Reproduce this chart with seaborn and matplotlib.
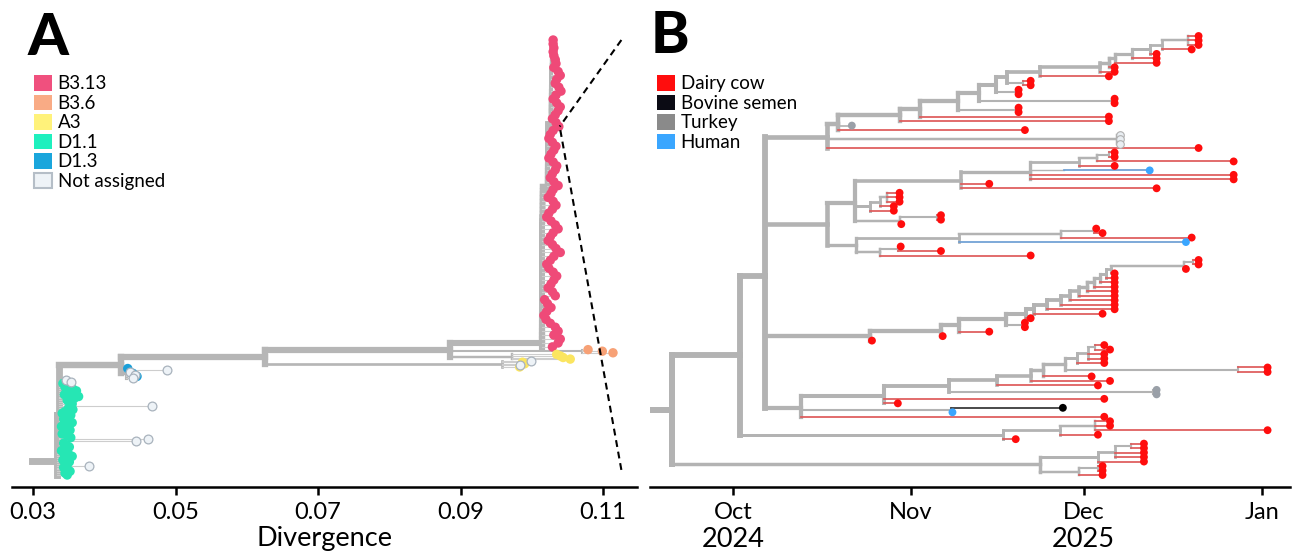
import numpy as np
import pandas as pd
import matplotlib
matplotlib.use("Agg")
import matplotlib.pyplot as plt
import seaborn as sns
from matplotlib.collections import LineCollection
from matplotlib.patches import Patch
from matplotlib.lines import Line2D

# ====================== DATA : panel A (divergence tree) ======================
lineage_names = ["B3.13", "B3.6", "A3", "D1.1", "D1.3", "Not assigned"]
lineage_fill = ["#f0507e", "#f9ab85", "#fff27a", "#1ef0be", "#1aa6dc", "#eef3f7"]
lineage_dot = ["#ef4a78", "#f7a176", "#fbe560", "#26e6b4", "#1b9fd8", "#eef3f7"]

# B3.13 tips (divergence), listed from the top of the column downwards
b313_div = [0.1030, 0.1030, 0.1031, 0.1030, 0.1031, 0.1033,
            0.1034, 0.1031, 0.1037, 0.1040, 0.1035, 0.1033, 0.1038, 0.1041, 0.1034, 0.1030,
            0.1035, 0.1040, 0.1037, 0.1033, 0.1029, 0.1034, 0.1038,
            0.1030, 0.1026, 0.1024, 0.1029, 0.1034, 0.1031, 0.1027, 0.1024, 0.1030, 0.1035,
            0.1033, 0.1029, 0.1026, 0.1031, 0.1037, 0.1030,
            0.1027, 0.1023, 0.1030, 0.1034, 0.1029, 0.1024, 0.1021, 0.1027, 0.1033, 0.1037,
            0.1030, 0.1026, 0.1023, 0.1029, 0.1034, 0.1040, 0.1031, 0.1026, 0.1021, 0.1024,
            0.1030, 0.1035, 0.1031, 0.1027, 0.1023, 0.1029, 0.1033,
            0.1018, 0.1022, 0.1027, 0.1021, 0.1017, 0.1020, 0.1026, 0.1033, 0.1037, 0.1031,
            0.1040, 0.1037, 0.1029]
# B3.13 ladder backbone: (number of tips, node divergence) from the crown down
b313_backbone = [(23, 0.1027), (16, 0.1022), (40, 0.1014)]
b36_div = [0.1079, 0.1099, 0.1114]
a3_div = [0.1035, 0.1040, 0.1044, 0.1054]
mixed_div = [0.0999, 0.0987, 0.0990, 0.0984, 0.0983]
mixed_lineage = ["Not assigned", "A3", "A3", "Not assigned", "A3"]
d13_div = [0.0433, 0.0488, 0.0436, 0.0440, 0.0443, 0.0446, 0.0441]
d13_lineage = ["D1.3", "Not assigned", "Not assigned", "D1.3", "Not assigned", "D1.3", "Not assigned"]
d11_div = [0.0347, 0.0354, 0.0342, 0.0349, 0.0345, 0.0356, 0.0361, 0.0352, 0.0344, 0.0364,
           0.0358, 0.0348, 0.0352, 0.0355, 0.0467, 0.0350, 0.0356, 0.0345, 0.0341, 0.0353,
           0.0347, 0.0343, 0.0351, 0.0355, 0.0346, 0.0340, 0.0349, 0.0352, 0.0344, 0.0341,
           0.0348, 0.0353, 0.0461, 0.0445, 0.0343, 0.0347, 0.0351, 0.0345, 0.0340, 0.0349,
           0.0344, 0.0355, 0.0348, 0.0342, 0.0351, 0.0346, 0.0379, 0.0343, 0.0349, 0.0352,
           0.0345, 0.0348]
d11_lineage = ["Not assigned", "Not assigned"] + ["D1.1"] * 12 + ["Not assigned"] + ["D1.1"] * 17 \
    + ["Not assigned", "Not assigned"] + ["D1.1"] * 12 + ["Not assigned"] + ["D1.1"] * 5
d11_inner_count = 40          # D1.1 tips sharing the inner node with the rest of the tree
# backbone node divergences
root_stub_div = 0.0298
d11_outer_div = 0.0334
d11_crown_div = 0.0336
d13_split_div = 0.0424
d13_crown_div = 0.0430
b3_split_div = 0.0626
b3_crown_div = 0.0885
b36_crown_div = 0.1070
a3_crown_div = 0.0972
mixed_crown_div = 0.0958
div_ticks = [0.03, 0.05, 0.07, 0.09, 0.11]

# ====================== DATA : panel B (time tree) ======================
# Newick-like strings; after '@' the node / tip date in days since 1 Oct 2024
# tip codes: c dairy cow, b bovine semen, t turkey, h human, u unassigned
host_codes = ["c", "b", "t", "h"]
host_names = ["Dairy cow", "Bovine semen", "Turkey", "Human"]
host_fill = ["#ff0d0d", "#0b0b14", "#8a8a8a", "#3aa6ff"]

T_crown = "((c@81,c@81,c@81)@79.1,c@79.8)@74.6"
T_ladder = [(72.5, "c@73.7"), (69.4, "c@73.7"), (66.4, "c@73.7"), (65.4, "c@66.4"),
            (63.8, "c@66.4"), (53.4, "c@65.4"), (47.7, "(c@51.8,c@51.8)@50.5"),
            (45.7, "(c@49.7,c@49.7)@49.2"), (42.8, "(c@66.4,c@66.4)@66.0"),
            (39.1, "(c@49.7,c@49.7)@49.2"), (32.5, "c@65.4"), (29.0, "c@65.4"),
            (18.3, "t@20.7,c@50.8"), (16.3, "(u@67.3,u@67.3,u@67.3)@66.8,c@81")]
M1a = "(((((c@66.4,c@66.4)@65.5,c@87.1)@63.4,c@66.4)@60.2,(h@72.5)@57.6,c@87.1,c@87.1)@51.7,c@44.6,c@73.7)@39.6"
M1b = "(((c@29,c@29,c@29)@26.8,c@28)@25.6,c@28)@23.8"
M1c = "((c@36.2,c@36.2)@35.5,c@29.3)@29"
M2a = "(((c@63.2,c@64.3)@62.8,c@79.8)@57.0,h@78.8)@39.4"
M2b = "((c@29.2,c@36.2)@28.8,c@51.8)@25.6"
M_dates = [21.3, 21.5, 16.4]
L_crown = "((c@81,c@81)@80,c@78.8)@78.4"
L_ladder = [(65.8, "c@66.4"), (64.9, "c@66.4"), (63.9, "c@66.4"), (62.8, "c@66.4"),
            (61.6, "c@66.4"), (60.2, "c@66.4"), (58.6, "c@66.4"), (57.0, "c@66.4"),
            (54.6, "c@66.4"), (52.4, "c@64.3"), (51.0, "c@51.8"),
            (47.5, "(c@50.8,c@50.8)@50.4"), (39.4, "c@44.6"), (36.2, "c@36.5"), (23.8, "c@24.2")]
W1_crown = "(c@64.6,c@65.6)@63.0"
W1_ladder = [(61.7, "c@64.6,c@64.6"), (59.8, "c@64.6"), (57.7, "(c@93,c@93)@87.8"),
             (54.0, "c@62.4"), (51.9, "c@65.6"), (45.9, "c@63.5"),
             (37.6, "(t@73.7,t@73.7)@73.0"), (26.3, "c@64.6,c@28.7"),
             (11.9, "(b@57.4,h@38.2)@37.9,c@64.6")]
W2 = "(((c@65.6,c@65.6,c@93)@63.0,c@63.5)@56.9,c@49.2)@47.0"
Z = "((((c@71.5,c@71.5)@69.2,c@71.5,c@71.5)@66.4,c@71.5)@63.5,((c@64.3,c@64.3)@63.5,c@64.3)@60.2)@53.4"
backbone_dates = [5.6, 1.2, -10.6]   # Q, P, root
root_stub_date = -14.1
month_ticks = [0, 31, 61, 92]
month_labels = ["Oct", "Nov", "Dec", "Jan"]
year_ticks = [0, 61]
year_labels = ["2024", "2025"]

# ====================== helpers ======================
def tip(x, key, h=1.0):
    return {"x": x, "key": key, "h": h, "kids": []}

def node(x, kids):
    return {"x": x, "key": None, "h": 0, "kids": list(kids)}

def parse(s):
    s = s.replace(" ", "")
    pos = 0
    def rd():
        nonlocal pos
        if s[pos] == "(":
            pos += 1
            kids = [rd()]
            while s[pos] == ",":
                pos += 1
                kids.append(rd())
            pos += 1
            key = None
        else:
            j = s.index("@", pos)
            key = s[pos:j]
            pos = j
            kids = []
        pos += 1
        j = pos
        while j < len(s) and s[j] not in ",)":
            j += 1
        x = float(s[pos:j])
        pos = j
        return {"x": x, "key": key, "h": 1.0, "kids": kids}
    return rd()

def ladder(crown, steps):
    s = crown
    for d, side in steps:
        s = f"({s},{side})@{d}"
    return s

def layout(root):
    cur = [0.0]
    def rec(n):
        if n["kids"]:
            for k in n["kids"]:
                rec(k)
            n["y"] = float(np.mean([k["y"] for k in n["kids"]]))
            n["n"] = sum(k["n"] for k in n["kids"])
        else:
            n["y"] = cur[0] + n["h"] / 2
            cur[0] += n["h"]
            n["n"] = 1
    rec(root)

def edges(root, stub_x, tip_color, int_color, lw_fn, tip_lw):
    segs, cols, lws, tips = [], [], [], []
    def rec(n, px):
        if n["kids"]:
            segs.append([(px, n["y"]), (n["x"], n["y"])])
            cols.append(int_color)
            lws.append(lw_fn(n["n"]))
            ys = [k["y"] for k in n["kids"]]
            if max(ys) > min(ys):
                segs.append([(n["x"], min(ys)), (n["x"], max(ys))])
                cols.append(int_color)
                lws.append(lw_fn(n["n"]))
            for k in n["kids"]:
                rec(k, n["x"])
        else:
            segs.append([(px, n["y"]), (n["x"], n["y"])])
            cols.append(tip_color(n["key"]))
            lws.append(tip_lw)
            tips.append((n["x"], n["y"], n["key"]))
    rec(root, stub_x)
    return segs, cols, lws, tips

def rows_to_lim(tips, px_first, px_last, px_top, px_bot):
    ys = [t[1] for t in tips]
    y0, y1 = min(ys), max(ys)
    k = (px_last - px_first) / (y1 - y0)
    return y1 + (px_bot - px_last) / k, y0 - (px_first - px_top) / k

# ====================== build tree A ======================
seg_x = []
for n_, xv in b313_backbone:
    seg_x += [xv] * n_
pink = [tip(v, "B3.13", 4.0) for v in b313_div]
cur = pink[0]
for t_, xv in zip(pink[1:], seg_x[1:]):
    cur = node(xv, [cur, t_])
PINK = cur
B36 = node(b36_crown_div, [tip(v, "B3.6", 1.6) for v in b36_div])
A3 = node(a3_crown_div, [tip(v, "A3", 1.6) for v in a3_div])
MIX = node(mixed_crown_div, [tip(v, l, 1.6) for v, l in zip(mixed_div, mixed_lineage)])
B3 = node(b3_crown_div, [PINK, B36, A3])
BB2 = node(b3_split_div, [B3, MIX])
D13 = node(d13_crown_div, [tip(v, l, 1.6) for v, l in zip(d13_div, d13_lineage)])
BB1 = node(d13_split_div, [BB2, D13])
d11_tips = [tip(v, l, 1.9) for v, l in zip(d11_div, d11_lineage)]
inner = node(d11_crown_div, [BB1] + d11_tips[:d11_inner_count])
treeA = node(d11_outer_div, [inner] + d11_tips[d11_inner_count:])
layout(treeA)
segA, colA, lwA, tipsA = edges(treeA, root_stub_div, lambda k: "#cdcdcd", "#b6b6b6",
                               lambda n: 0.5 + 0.62 * np.log2(max(n, 1)), 0.8)

# ====================== build tree B ======================
T_str = ladder(T_crown, T_ladder)
M_str = f"(({M1a},{M1b},{M1c})@{M_dates[0]},({M2a},{M2b})@{M_dates[1]})@{M_dates[2]}"
L_str = ladder(L_crown, L_ladder)
W1_str = ladder(W1_crown, W1_ladder)
B_str = (f"((({T_str},{M_str},{L_str},{W1_str})@{backbone_dates[0]},{W2})@{backbone_dates[1]},"
         f"{Z})@{backbone_dates[2]}")
treeB = parse(B_str)
layout(treeB)
tip_line = {"c": "#de5a5a", "h": "#6d9fd4", "b": "#333333", "t": "#b3b3b3", "u": "#b3b3b3"}
segB, colB, lwB, tipsB = edges(treeB, root_stub_date, lambda k: tip_line[k], "#b3b3b3",
                               lambda n: 1.0 + 0.5 * np.log2(max(n, 1)), 1.25)

# ====================== figure ======================
sns.set_theme(style="white")
plt.rcParams["font.family"] = ["Lato", "DejaVu Sans"]
plt.rcParams["text.color"] = "black"
plt.rcParams["axes.labelcolor"] = "black"
plt.rcParams["xtick.color"] = "black"
W, H = 1296, 553
fig = plt.figure(figsize=(W / 100, H / 100), dpi=100)
fig.patch.set_facecolor("white")

def px_axes(l, t, r, b):
    return fig.add_axes([l / W, 1 - b / H, (r - l) / W, (b - t) / H])

axA = px_axes(12, 25, 637, 487)
axB = px_axes(650, 25, 1290, 487)

# ---- panel A ----
axA.add_collection(LineCollection(segA, colors=colA, linewidths=lwA, capstyle="projecting", zorder=2))
dfA = pd.DataFrame(tipsA, columns=["div", "row", "lineage"])
dot_pal = dict(zip(lineage_names, lineage_dot))
colored = dfA[dfA.lineage != "Not assigned"]
sns.scatterplot(data=colored, x="div", y="row", hue="lineage", palette=dot_pal, s=46,
                linewidth=0, legend=False, ax=axA, zorder=4)
sns.scatterplot(data=dfA[dfA.lineage == "Not assigned"], x="div", y="row", color="#eef3f7",
                s=40, edgecolor="#a9b3bd", linewidth=0.9, legend=False, ax=axA, zorder=5)
axA.set_xlim(0.027053, 0.11477)
axA.set_ylim(*rows_to_lim(tipsA, 40, 475, 25, 487))
axA.set_xticks(div_ticks)
axA.set_xticklabels([f"{v:.2f}" for v in div_ticks])
axA.set_xlabel("Divergence", fontsize=19.5, labelpad=2, color="black")
axA.set_ylabel("")

# dashed zoom guides from the B3.13 column
k = 22
pk = dfA[dfA.lineage == "B3.13"].iloc[k]
x0, x1 = axA.get_xlim()
ax_frac = (pk["div"] + 0.00012 - x0) / (x1 - x0)
yb, yt = axA.get_ylim()
ay = (pk["row"] - yb) / (yt - yb)
for end_y in (0.9675, 0.037):
    axA.add_line(Line2D([0.975, ax_frac], [end_y, ay], transform=axA.transAxes, color="black",
                        lw=1.5, dashes=(3.3, 2.3), zorder=6, clip_on=False))

# ---- panel B ----
axB.add_collection(LineCollection(segB, colors=colB, linewidths=lwB, capstyle="projecting", zorder=2))
dfB = pd.DataFrame(tipsB, columns=["date", "row", "host"])
host_pal = dict(zip(host_codes, ["#ff0d0d", "#000000", "#9aa0a8", "#3aa6ff"]))
sns.scatterplot(data=dfB[dfB.host != "u"], x="date", y="row", hue="host", palette=host_pal,
                s=32, linewidth=0, legend=False, ax=axB, zorder=4)
sns.scatterplot(data=dfB[dfB.host == "u"], x="date", y="row", color="#e9eef2", s=30,
                edgecolor="#b0b0b0", linewidth=0.8, legend=False, ax=axB, zorder=4)
axB.set_xlim(-14.4, 96.9)
axB.set_ylim(*rows_to_lim(tipsB, 36, 475, 25, 487))
axB.set_xticks(month_ticks)
axB.set_xticklabels(month_labels)
axB.set_xlabel("")
axB.set_ylabel("")
for d, lab in zip(year_ticks, year_labels):
    axB.text(d, -0.1147, lab, transform=axB.get_xaxis_transform(), ha="center", va="center",
             fontsize=19.5, color="black")

for ax in (axA, axB):
    sns.despine(ax=ax, left=True, top=True, right=True)
    ax.spines["bottom"].set_linewidth(1.8)
    ax.spines["bottom"].set_color("black")
    ax.set_yticks([])
    ax.tick_params(axis="x", bottom=True, length=6, width=1.8, color="black",
                   labelsize=17, pad=5, direction="out", labelcolor="black")
    ax.set_facecolor("white")
    ax.grid(False)

# ---- legends ----
leg_kw = dict(loc="upper left", frameon=False, fontsize=13.5, handlelength=0.96, handleheight=0.9,
              handletextpad=0.3, labelspacing=0.12, borderpad=0, borderaxespad=0,
              labelcolor="black")
hA = [Patch(facecolor=c, edgecolor=("#b5bec7" if n == "Not assigned" else c),
            linewidth=(1.5 if n == "Not assigned" else 0)) for n, c in zip(lineage_names, lineage_fill)]
fig.legend(handles=hA, labels=lineage_names, bbox_to_anchor=(34 / W, 1 - 75 / H), **leg_kw)
hB = [Patch(facecolor=c, edgecolor=c, linewidth=0) for c in host_fill]
fig.legend(handles=hB, labels=host_names, bbox_to_anchor=(657 / W, 1 - 75 / H), **leg_kw)

# ---- panel letters ----
fig.text(28 / W, 1 - 55 / H, "A", fontsize=42, fontweight="black", va="baseline", ha="left", color="black")
fig.text(651 / W, 1 - 53 / H, "B", fontsize=42, fontweight="black", va="baseline", ha="left", color="black")

fig.savefig("out.png", dpi=100, facecolor="white")
